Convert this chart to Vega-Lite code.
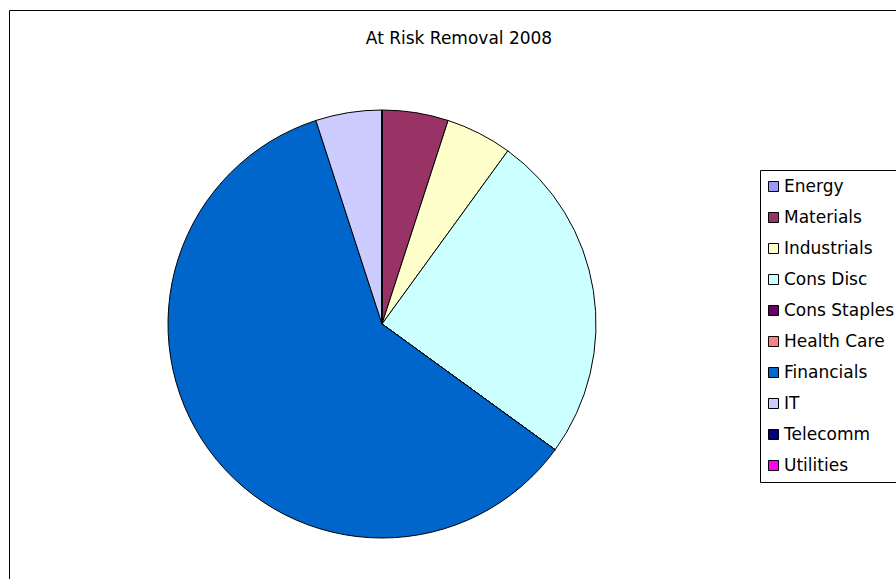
{
  "$schema": "https://vega.github.io/schema/vega-lite/v6.json",
  "autosize": "none",
  "width": 900,
  "height": 600,
  "padding": {"left": 9, "top": 10, "right": 0, "bottom": 0},
  "background": "white",
  "view": {"stroke": "#000000", "strokeWidth": 1, "fill": "white"},
  "config": {
    "view": {"stroke": "#000000", "strokeWidth": 1},
    "font": "DejaVu Sans"
  },
  "title": {
    "text": "At Risk Removal 2008",
    "anchor": "middle",
    "offset": -38,
    "fontSize": 17,
    "fontWeight": "normal",
    "font": "DejaVu Sans",
    "color": "#000000"
  },
  "data": {
    "values": [
      {"sector": "Energy", "rank": 1, "value": 0},
      {"sector": "Materials", "rank": 2, "value": 1},
      {"sector": "Industrials", "rank": 3, "value": 1},
      {"sector": "Cons Disc", "rank": 4, "value": 5},
      {"sector": "Cons Staples", "rank": 5, "value": 0},
      {"sector": "Health Care", "rank": 6, "value": 0},
      {"sector": "Financials", "rank": 7, "value": 12},
      {"sector": "IT", "rank": 8, "value": 1},
      {"sector": "Telecomm", "rank": 9, "value": 0},
      {"sector": "Utilities", "rank": 10, "value": 0}
    ]
  },
  "mark": {"type": "arc", "radius": 214, "x": 373, "y": 314, "stroke": "#000000", "strokeWidth": 1},
  "encoding": {
    "theta": {"field": "value", "type": "quantitative", "stack": true},
    "order": {"field": "rank", "type": "quantitative"},
    "color": {
      "field": "sector",
      "type": "nominal",
      "scale": {
        "domain": ["Energy", "Materials", "Industrials", "Cons Disc", "Cons Staples", "Health Care", "Financials", "IT", "Telecomm", "Utilities"],
        "range": ["#9999FF", "#993366", "#FFFFCC", "#CCFFFF", "#660066", "#FF8080", "#0066CC", "#CCCCFF", "#000080", "#FF00FF"]
      },
      "legend": {
        "title": null,
        "orient": "none",
        "legendX": 751,
        "legendY": 160,
        "direction": "vertical",
        "fillColor": "white",
        "strokeColor": "#000000",
        "padding": 8,
        "symbolType": "square",
        "symbolSize": 100,
        "symbolOffset": -3,
        "symbolStrokeColor": "#000000",
        "symbolStrokeWidth": 1,
        "symbolOpacity": 1,
        "labelFontSize": 17,
        "labelFont": "DejaVu Sans",
        "labelColor": "#000000",
        "labelOffset": 2,
        "rowPadding": 13,
        "labelLimit": 300
      }
    }
  }
}
